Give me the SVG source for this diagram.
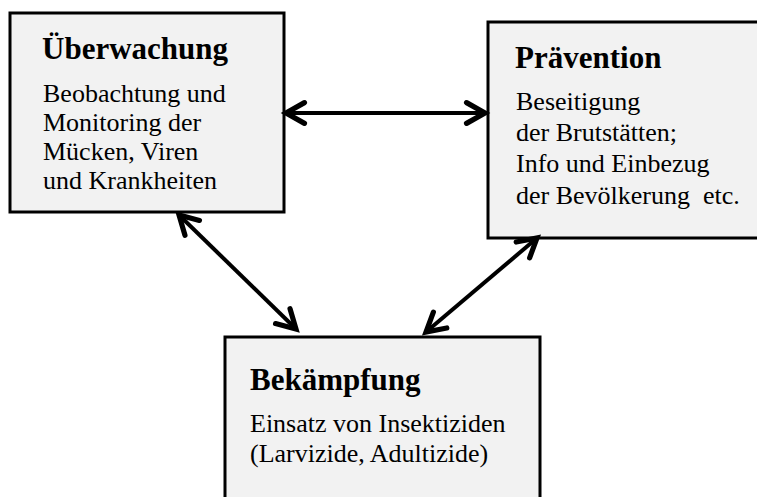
<svg xmlns="http://www.w3.org/2000/svg" width="757" height="497" viewBox="0 0 757 497">
  <style>
    .box { fill: #f2f2f2; stroke: #000; stroke-width: 3; }
    .title { font-family: "Liberation Serif", "Times New Roman", serif; font-weight: bold; font-size: 31px; fill: #000; }
    .body { font-family: "Liberation Serif", "Times New Roman", serif; font-size: 26px; fill: #000; white-space: pre; }
    .conn { fill: none; stroke: #000; stroke-width: 4; }
  </style>
  <defs>
    <marker id="head" markerUnits="userSpaceOnUse" markerWidth="30" markerHeight="30" viewBox="-22 -12 26 24" refX="0" refY="0" orient="auto-start-reverse" overflow="visible">
      <path d="M -16 -9 L 0 0 L -16 9" fill="none" stroke="#000" stroke-width="4.5" stroke-linecap="round" stroke-linejoin="miter"/>
    </marker>
  </defs>
  <rect width="757" height="497" fill="#fff"/>

  <g id="ueberwachung">
    <rect class="box" x="10" y="13" width="274" height="199"/>
    <text class="title" x="42" y="59">Überwachung</text>
    <text class="body" x="43" y="102">Beobachtung und</text>
    <text class="body" x="43" y="131">Monitoring der</text>
    <text class="body" x="43" y="160">Mücken, Viren</text>
    <text class="body" x="43" y="189">und Krankheiten</text>
  </g>

  <g id="praevention">
    <rect class="box" x="488" y="22" width="285" height="216"/>
    <text class="title" x="515" y="68">Prävention</text>
    <text class="body" x="516" y="110">Beseitigung</text>
    <text class="body" x="516" y="141">der Brutstätten;</text>
    <text class="body" x="516" y="172">Info und Einbezug</text>
    <text class="body" x="516" y="204">der Bevölkerung  etc.</text>
  </g>

  <g id="bekaempfung">
    <rect class="box" x="225" y="337" width="315" height="180"/>
    <text class="title" x="250" y="390">Bekämpfung</text>
    <text class="body" x="250" y="432">Einsatz von Insektiziden</text>
    <text class="body" x="250" y="462">(Larvizide, Adultizide)</text>
  </g>

  <g id="connectors">
    <line class="conn" x1="286" y1="113" x2="485" y2="113" marker-start="url(#head)" marker-end="url(#head)"/>
    <line class="conn" x1="179" y1="215" x2="296" y2="329" marker-start="url(#head)" marker-end="url(#head)"/>
    <line class="conn" x1="537" y1="238" x2="426" y2="332" marker-start="url(#head)" marker-end="url(#head)"/>
  </g>
</svg>
